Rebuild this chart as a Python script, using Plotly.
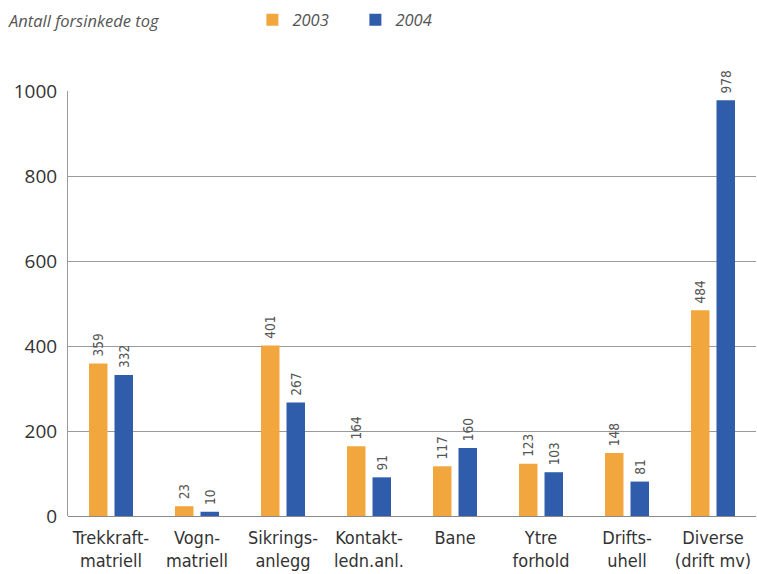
import plotly.graph_objects as go

categories = ["Trekkraft-matriell", "Vogn-matriell", "Sikrings-anlegg", "Kontakt-ledn.anl.",
              "Bane", "Ytre forhold", "Drifts-uhell", "Diverse (drift mv)"]
tick_labels = ["Trekkraft-<br>matriell", "Vogn-<br>matriell", "Sikrings-<br>anlegg", "Kontakt-<br>ledn.anl.",
               "Bane", "Ytre<br>forhold", "Drifts-<br>uhell", "Diverse<br>(drift mv)"]
values_2003 = [359, 23, 401, 164, 117, 123, 148, 484]
values_2004 = [332, 10, 267, 91, 160, 103, 81, 978]
y_ticks = [0, 200, 400, 600, 800, 1000]

ORANGE = "#F2A73E"
BLUE = "#2F5DAB"
FONT = "Liberation Sans Narrow, DejaVu Sans Condensed, Arial Narrow, sans-serif"

fig = go.Figure()
for name, vals, col in [("2003", values_2003, ORANGE), ("2004", values_2004, BLUE)]:
    fig.add_trace(go.Bar(
        x=categories, y=vals, name=name, marker=dict(color=col, line=dict(width=0)),
        text=["\u00a0" + str(v) for v in vals], textposition="outside", textangle=-90,
        constraintext="none",
        textfont=dict(size=13.5, color="#555555", family=FONT),
        cliponaxis=False,
    ))

fig.update_layout(
    width=757, height=574,
    margin=dict(l=68, r=1, t=91, b=58, autoexpand=False),
    paper_bgcolor="white", plot_bgcolor="white",
    barmode="group", bargap=0.407, bargroupgap=0.275,
    showlegend=True,
    legend=dict(orientation="h", x=0.268, y=1.167, xanchor="left", yanchor="middle",
                font=dict(size=16.5, color="#555555", family="Open Sans, sans-serif", style="italic"),
                entrywidth=58, entrywidthmode="pixels", itemclick=False),
    font=dict(family=FONT, color="#333333"),
)
fig.update_xaxes(
    tickmode="array", tickvals=categories, ticktext=tick_labels,
    tickfont=dict(size=18, color="#333333", family=FONT),
    showline=False, ticks="", showgrid=False, range=[-0.5, 7.5],
    ticklabelstandoff=9,
)
fig.update_yaxes(
    range=[0, 1000], tickvals=y_ticks, showgrid=True, gridcolor="#9a9a9a", gridwidth=1,
    zeroline=True, zerolinecolor="#8a8a8a", zerolinewidth=1,
    showline=True, linecolor="#9a9a9a", linewidth=1,
    tickfont=dict(size=19, color="#333333", family="Open Sans, sans-serif"),
    ticks="", ticklabelstandoff=6,
)
fig.add_annotation(text="<i>Antall forsinkede tog</i>", xref="paper", yref="paper",
                   x=-0.09, y=1.167, xanchor="left", yanchor="middle", showarrow=False,
                   font=dict(size=16.5, color="#555555", family="Open Sans, sans-serif"))

fig.write_html("out.html")
